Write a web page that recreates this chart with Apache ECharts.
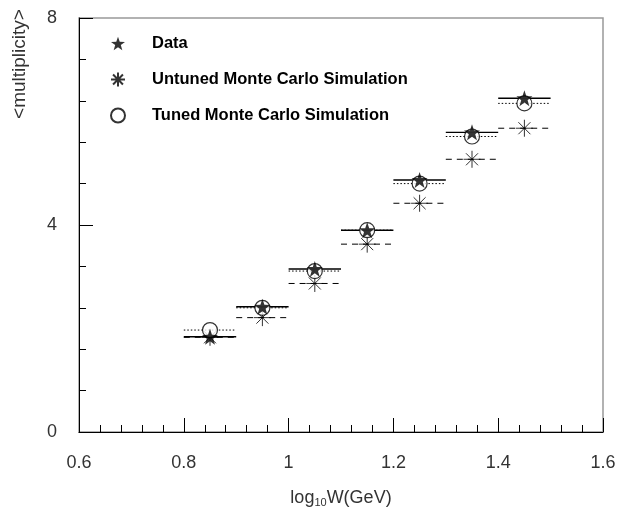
<!DOCTYPE html>
<html><head><meta charset="utf-8">
<script src="https://cdn.jsdelivr.net/npm/echarts@6/dist/echarts.min.js"></script>
<style>html,body{margin:0;padding:0;background:#fff;}#c{width:622px;height:519px;}</style>
</head><body><div id="c"></div>
<script>
// Data
const binCenters = [0.85, 0.95, 1.05, 1.15, 1.25, 1.35, 1.45];
const binWidth = 0.1;
const dataValues    = [1.84, 2.42, 3.15, 3.90, 4.87, 5.79, 6.45];
const untunedValues = [1.83, 2.21, 2.87, 3.63, 4.42, 5.27, 5.87];
const tunedValues   = [1.97, 2.40, 3.11, 3.90, 4.80, 5.71, 6.35];
const xTicks = [0.6, 0.8, 1.0, 1.2, 1.4, 1.6];
const yTicks = [0, 4, 8];
const seriesNames = ['Data', 'Untuned Monte Carlo Simulation', 'Tuned Monte Carlo Simulation'];

const starPath = 'path://M0,-10L2.35,-3.24L9.51,-3.09L3.8,1.24L5.88,8.09L0,4L-5.88,8.09L-3.8,1.24L-9.51,-3.09L-2.35,-3.24Z';
const asteriskPath = 'path://M0,-10L0,10M-10,0L10,0M-7.07,-7.07L7.07,7.07M-7.07,7.07L7.07,-7.07';

function pairs(vals){ return binCenters.map((x,i)=>[x, vals[i]]); }
function binLines(vals, dash, width){
  return {
    type:'custom', silent:true, z:2,
    data: pairs(vals),
    renderItem: function(params, api){
      const x = api.value(0), y = api.value(1);
      const p1 = api.coord([x - binWidth/2, y]);
      const p2 = api.coord([x + binWidth/2, y]);
      return {type:'line', shape:{x1:p1[0], y1:p1[1], x2:p2[0], y2:p2[1]},
        style:{stroke:'#000', lineWidth:width, lineDash:dash, fill:null}};
    }
  };
}

const chart = echarts.init(document.getElementById('c'), null, {renderer:'canvas'});
const labelFont = {fontFamily:'Liberation Sans, Arial, sans-serif', fontSize:18, color:'#333'};
chart.setOption({
  animation:false,
  backgroundColor:'#fff',
  grid:{left:79, right:19, top:18, bottom:87, show:true, borderColor:'#999', borderWidth:1.5},
  legend:{
    orient:'vertical', left:105, top:30, itemGap:19, itemWidth:14, itemHeight:14,
    selectedMode:false,
    data:seriesNames,
    textStyle:{fontFamily:'Liberation Sans, Arial, sans-serif', fontSize:16.5, fontWeight:'bold', color:'#000', padding:[0,0,0,22]}
  },
  xAxis:{
    type:'value', min:0.6, max:1.6, interval:0.2,
    axisLine:{show:true, onZero:false, lineStyle:{color:'#000', width:1}},
    axisTick:{show:true, inside:true, length:14, lineStyle:{color:'#000'}},
    minorTick:{show:true, splitNumber:5, length:7, lineStyle:{color:'#000'}},
    splitLine:{show:false},
    axisLabel:Object.assign({margin:22, formatter:function(v){return String(+v.toFixed(1));},
      customValues: xTicks}, labelFont),
    name:'{a|log}{s|10}{a|W(GeV)}', nameLocation:'middle', nameGap:57,
    nameTextStyle:{rich:{a:{fontFamily:'Liberation Sans, Arial, sans-serif', fontSize:18, color:'#333'},
      s:{fontFamily:'Liberation Sans, Arial, sans-serif', fontSize:11, color:'#333', verticalAlign:'bottom', padding:[8,0,0,0]}}}
  },
  yAxis:{
    type:'value', min:0, max:8, interval:4,
    axisLine:{show:true, onZero:false, lineStyle:{color:'#000', width:1}},
    axisTick:{show:true, inside:true, length:14, lineStyle:{color:'#000'}},
    minorTick:{show:true, splitNumber:5, length:7, lineStyle:{color:'#000'}},
    splitLine:{show:false},
    axisLabel:Object.assign({margin:22, customValues: yTicks}, labelFont)
  },
  graphic:[{type:'text', x:20, y:64, rotation:Math.PI/2,
    style:{text:'<multiplicity>', fontFamily:'Liberation Sans, Arial, sans-serif', fontSize:19, fill:'#333',
      textAlign:'center', textVerticalAlign:'middle'}}],
  series:[
    binLines(dataValues, null, 1.4),
    binLines(untunedValues, [6,5], 1),
    binLines(tunedValues, [1.5,2], 1),
    {name:seriesNames[1], type:'scatter', z:3, data:pairs(untunedValues), symbol:asteriskPath, symbolSize:17,
      itemStyle:{color:'rgba(0,0,0,0)', borderColor:'#000', borderWidth:1}},
    {name:seriesNames[2], type:'scatter', z:4, data:pairs(tunedValues), symbol:'circle', symbolSize:15,
      itemStyle:{color:'#fff', borderColor:'#000', borderWidth:1.2}},
    {name:seriesNames[0], type:'scatter', z:5, data:pairs(dataValues), symbol:starPath, symbolSize:16,
      itemStyle:{color:'#000'}}
  ]
});
</script></body></html>
